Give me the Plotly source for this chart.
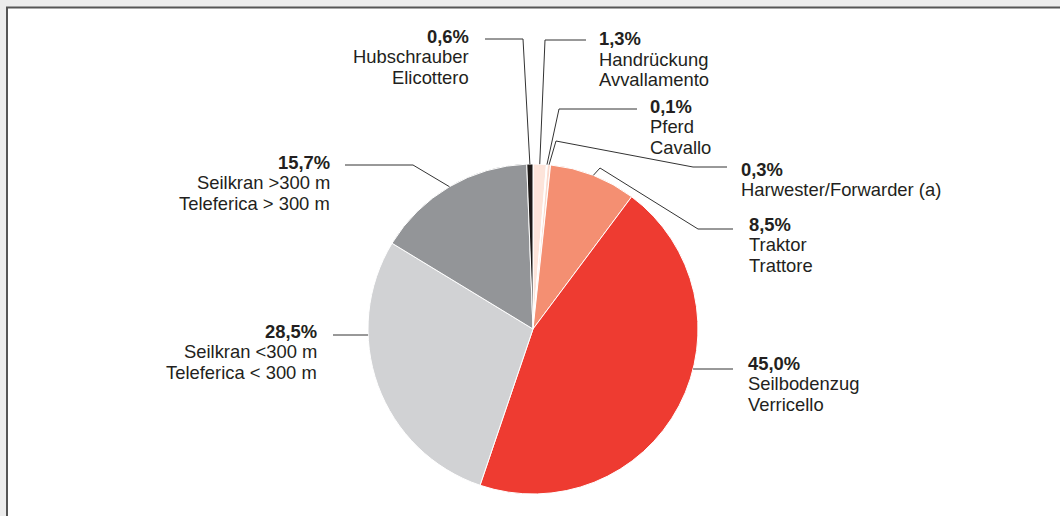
import math
import plotly.graph_objects as go

W, H = 1060, 516

# ---- data ----
labels_de = ["Handrückung", "Pferd", "Harwester/Forwarder (a)", "Traktor",
             "Seilbodenzug", "Seilkran <300 m", "Seilkran >300 m", "Hubschrauber"]
labels_it = ["Avvallamento", "Cavallo", "", "Trattore",
             "Verricello", "Teleferica < 300 m", "Teleferica > 300 m", "Elicottero"]
values = [1.3, 0.1, 0.3, 8.5, 45.0, 28.5, 15.7, 0.6]
colors = ["#fde4da", "#fef3ee", "#fbd9cc", "#f48f72",
          "#ee3b31", "#d1d2d4", "#939598", "#1e1a18"]

# ---- layout of pie (pixels) ----
CX, CY, R = 533, 329, 165

# label placement: (anchor x, xanchor, first-line y) in pixels
label_pos = [
    (597, "left", 38.5),
    (648, "left", 106),
    (739, "left", 169),
    (747, "left", 224),
    (746, "left", 363),
    (319, "right", 331),
    (332, "right", 162),
    (471, "right", 36),
]
# leader polyline points from label side toward the pie (pixels);
# final point on the pie is derived from the data
leader_pts = [
    [(586, 40), (545, 40)],
    [(637, 109), (559, 109)],
    [(727, 167), (693, 167), (556, 141)],
    [(733, 229), (698, 229), (600, 168)],
    [(733, 369)],
    [(333, 335)],
    [(345, 165), (413, 165)],
    [(485, 39), (523, 39)],
]
# 'mid' -> slice mid-angle on the rim; 'h' -> horizontal hit on the rim
leader_end = ["mid", "mid", "mid", "mid", "h", "h", "mid", "mid"]

LINE_SP = 20.7
FONT = "Liberation Sans, Arial, sans-serif"
TXT = "#231f20"


def px(x):
    return x / W


def py(y):
    return 1 - y / H


total = sum(values)
cum = 0.0
mids = []
for v in values:
    mids.append((cum + v / 2) / total * 360.0)
    cum += v

fig = go.Figure(go.Pie(
    labels=labels_de, values=values, sort=False, direction="clockwise",
    rotation=0, textinfo="none", hoverinfo="label+percent",
    marker=dict(colors=colors, line=dict(color="white", width=1)),
    domain=dict(x=[px(CX - R), px(CX + R)], y=[py(CY + R), py(CY - R)]),
))

shapes = [dict(type="rect", xref="paper", yref="paper",
               x0=px(7), x1=1.05, y0=-0.05, y1=py(7.5),
               fillcolor="white", line=dict(color="#555555", width=2),
               layer="below")]
annotations = []

for i, v in enumerate(values):
    pts = list(leader_pts[i])
    if leader_end[i] == "mid":
        a = math.radians(mids[i])
        pts.append((CX + R * math.sin(a), CY - R * math.cos(a)))
    else:
        yh = pts[-1][1]
        dx = math.sqrt(max(R * R - (yh - CY) ** 2, 0))
        xh = CX + dx if pts[-1][0] > CX else CX - dx
        pts.append((xh, yh))
    for (x0, y0), (x1, y1) in zip(pts[:-1], pts[1:]):
        shapes.append(dict(type="line", xref="paper", yref="paper",
                           x0=px(x0), y0=py(y0), x1=px(x1), y1=py(y1),
                           line=dict(color="#333333", width=1), layer="above"))

    lx, anchor, ly = label_pos[i]
    pct = f"{v:.1f}%".replace(".", ",")
    lines = [f"<b>{pct}</b>", labels_de[i]]
    if labels_it[i]:
        lines.append(labels_it[i])
    for k, t in enumerate(lines):
        annotations.append(dict(
            text=t, xref="paper", yref="paper", x=px(lx), y=py(ly + k * LINE_SP),
            xanchor=anchor, yanchor="middle", showarrow=False,
            align=anchor, font=dict(family=FONT, size=18.4, color=TXT)))

fig.update_layout(
    width=W, height=H, margin=dict(l=0, r=0, t=0, b=0),
    paper_bgcolor="#ececec", plot_bgcolor="#ececec",
    showlegend=False, shapes=shapes, annotations=annotations,
)

fig.write_html(
    "out.html",
    config={"displayModeBar": False},
    post_script="document.body.style.margin='0';"
                "document.body.style.overflow='hidden';"
                "document.documentElement.style.overflow='hidden';",
)
